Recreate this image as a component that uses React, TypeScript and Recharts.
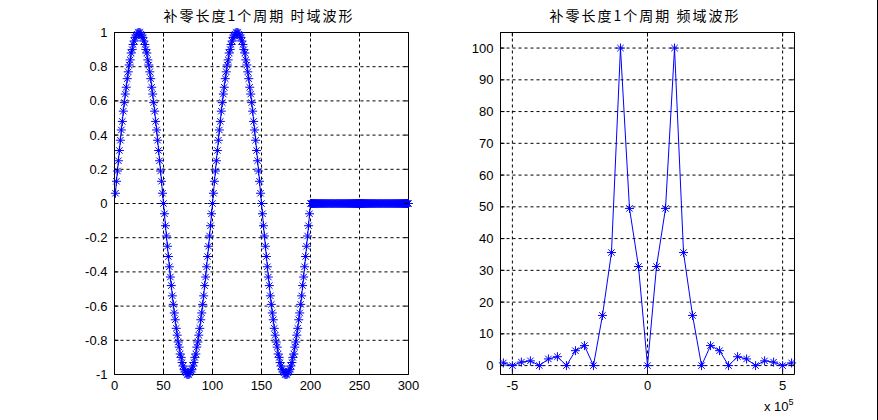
import {
  LineChart,
  Line,
  XAxis,
  YAxis,
  CartesianGrid,
  ReferenceArea,
} from "recharts";

// time domain: two sine periods (samples 1..200), then zero padding up to 300
const firstCycle = [
  0.06, 0.13, 0.19, 0.25, 0.31, 0.37, 0.43, 0.48, 0.54, 0.59,
  0.64, 0.68, 0.73, 0.77, 0.81, 0.84, 0.88, 0.9, 0.93, 0.95,
  0.97, 0.98, 0.99, 1, 1, 1, 0.99, 0.98, 0.97, 0.95,
  0.93, 0.9, 0.88, 0.84, 0.81, 0.77, 0.73, 0.68, 0.64, 0.59,
  0.54, 0.48, 0.43, 0.37, 0.31, 0.25, 0.19, 0.13, 0.06, 0,
  -0.06, -0.13, -0.19, -0.25, -0.31, -0.37, -0.43, -0.48, -0.54, -0.59,
  -0.64, -0.68, -0.73, -0.77, -0.81, -0.84, -0.88, -0.9, -0.93, -0.95,
  -0.97, -0.98, -0.99, -1, -1, -1, -0.99, -0.98, -0.97, -0.95,
  -0.93, -0.9, -0.88, -0.84, -0.81, -0.77, -0.73, -0.68, -0.64, -0.59,
  -0.54, -0.48, -0.43, -0.37, -0.31, -0.25, -0.19, -0.13, -0.06, 0,
];
const secondCycle = [
  0.06, 0.13, 0.19, 0.25, 0.31, 0.37, 0.43, 0.48, 0.54, 0.59,
  0.64, 0.68, 0.73, 0.77, 0.81, 0.84, 0.88, 0.9, 0.93, 0.95,
  0.97, 0.98, 0.99, 1, 1, 1, 0.99, 0.98, 0.97, 0.95,
  0.93, 0.9, 0.88, 0.84, 0.81, 0.77, 0.73, 0.68, 0.64, 0.59,
  0.54, 0.48, 0.43, 0.37, 0.31, 0.25, 0.19, 0.13, 0.06, 0,
  -0.06, -0.13, -0.19, -0.25, -0.31, -0.37, -0.43, -0.48, -0.54, -0.59,
  -0.64, -0.68, -0.73, -0.77, -0.81, -0.84, -0.88, -0.9, -0.93, -0.95,
  -0.97, -0.98, -0.99, -1, -1, -1, -0.99, -0.98, -0.97, -0.95,
  -0.93, -0.9, -0.88, -0.84, -0.81, -0.77, -0.73, -0.68, -0.64, -0.59,
  -0.54, -0.48, -0.43, -0.37, -0.31, -0.25, -0.19, -0.13, -0.06, 0,
];
const zeroPad = [
  0, 0, 0, 0, 0, 0, 0, 0, 0, 0, 0, 0, 0, 0, 0, 0, 0, 0, 0, 0,
  0, 0, 0, 0, 0, 0, 0, 0, 0, 0, 0, 0, 0, 0, 0, 0, 0, 0, 0, 0,
  0, 0, 0, 0, 0, 0, 0, 0, 0, 0, 0, 0, 0, 0, 0, 0, 0, 0, 0, 0,
  0, 0, 0, 0, 0, 0, 0, 0, 0, 0, 0, 0, 0, 0, 0, 0, 0, 0, 0, 0,
  0, 0, 0, 0, 0, 0, 0, 0, 0, 0, 0, 0, 0, 0, 0, 0, 0, 0, 0, 0,
];
const timeTicksX = [0, 50, 100, 150, 200, 250, 300];
const timeTicksY = [-1, -0.8, -0.6, -0.4, -0.2, 0, 0.2, 0.4, 0.6, 0.8, 1];

// frequency domain: FFT bins -16..16, bin width 1e5/3 Hz
const freqBins = [
  -16, -15, -14, -13, -12, -11, -10, -9, -8, -7, -6, -5, -4, -3, -2, -1, 0,
  1, 2, 3, 4, 5, 6, 7, 8, 9, 10, 11, 12, 13, 14, 15, 16,
];
const freqMag = [
  0.85, 0, 1.1, 1.5, 0, 2.1, 2.8, 0, 4.7, 6.3, 0, 15.8, 35.6, 100, 49.5, 31.2, 0,
  31.2, 49.5, 100, 35.6, 15.8, 0, 6.3, 4.7, 0, 2.8, 2.1, 0, 1.5, 1.1, 0, 0.85,
];
const freqTicksX = [-500000, 0, 500000];
const freqTicksY = [0, 10, 20, 30, 40, 50, 60, 70, 80, 90, 100];

const timeData = [...firstCycle, ...secondCycle, ...zeroPad].map((v, i) => ({
  n: i + 1,
  v,
}));
const freqData = freqBins.map((k, i) => ({ f: (k * 100000) / 3, mag: freqMag[i] }));

const BLUE = "#0000ff";
const TICK_FONT = "'Liberation Sans', Arial, sans-serif";
const PLOT_W = 294;
const PLOT_H = 342;
const TICK_LEN = 4;

const Star = (props: any) => {
  const { cx, cy } = props;
  if (cx == null || cy == null) return null;
  return (
    <g stroke={BLUE} strokeWidth={1}>
      <line x1={cx - 4.5} y1={cy} x2={cx + 4.5} y2={cy} />
      <line x1={cx} y1={cy - 4.5} x2={cx} y2={cy + 4.5} />
      <line x1={cx - 3.2} y1={cy - 3.2} x2={cx + 3.2} y2={cy + 3.2} />
      <line x1={cx - 3.2} y1={cy + 3.2} x2={cx + 3.2} y2={cy - 3.2} />
    </g>
  );
};

// bottom tick label plus inward tick marks at bottom and top of the box
const XTick = (props: any) => {
  const { x, y, payload, fmt } = props;
  return (
    <g>
      <line x1={x} y1={y} x2={x} y2={y - TICK_LEN} stroke="#000" />
      <line x1={x} y1={y - PLOT_H} x2={x} y2={y - PLOT_H + TICK_LEN} stroke="#000" />
      <text x={x} y={y + 15} textAnchor="middle" fontSize={13} fontFamily={TICK_FONT} fill="#000">
        {fmt(payload.value)}
      </text>
    </g>
  );
};

// left tick label plus inward tick marks at left and right of the box
const YTick = (props: any) => {
  const { x, y, payload } = props;
  return (
    <g>
      <line x1={x} y1={y} x2={x + TICK_LEN} y2={y} stroke="#000" />
      <line x1={x + PLOT_W} y1={y} x2={x + PLOT_W - TICK_LEN} y2={y} stroke="#000" />
      <text x={x - 7} y={y + 4.5} textAnchor="end" fontSize={13} fontFamily={TICK_FONT} fill="#000">
        {String(payload.value)}
      </text>
    </g>
  );
};

const ExpLabel = (props: any) => {
  const { viewBox } = props;
  const x = viewBox.x + viewBox.width - 30.5;
  return (
    <text x={x} y={411} fontSize={13} fontFamily={TICK_FONT} fill="#000">
      x 10
      <tspan fontSize={9} dy={-6}>
        5
      </tspan>
    </text>
  );
};

const titleStyle = (left: number): React.CSSProperties => ({
  position: "absolute",
  left,
  top: 5,
  width: PLOT_W,
  textAlign: "center",
  fontFamily: "'Noto Sans CJK SC', sans-serif",
  fontSize: 14,
  lineHeight: "20px",
  letterSpacing: 2,
  color: "#000",
  whiteSpace: "nowrap",
});

export default function App() {
  return (
    <div
      style={{
        position: "absolute",
        left: 0,
        top: 0,
        width: 878,
        height: 420,
        background: "#fff",
        overflow: "hidden",
      }}
    >
      <div style={titleStyle(112)}>补零长度1个周期 时域波形</div>
      <div style={titleStyle(498)}>补零长度1个周期 频域波形</div>

      {/* time domain */}
      <div style={{ position: "absolute", left: 0, top: 0 }}>
        <LineChart
          width={440}
          height={420}
          data={timeData}
          margin={{ top: 32.5, right: 31.5, bottom: 15.5, left: 74.5 }}
        >
          <CartesianGrid stroke="#000" strokeDasharray="3 3" />
          <XAxis
            type="number"
            dataKey="n"
            domain={[0, 300]}
            ticks={timeTicksX}
            interval={0}
            height={30}
            tickSize={0}
            tickMargin={0}
            axisLine={false}
            tickLine={false}
            tick={(p: any) => <XTick {...p} fmt={(v: number) => String(v)} />}
          />
          <YAxis
            type="number"
            domain={[-1, 1]}
            ticks={timeTicksY}
            interval={0}
            width={40}
            tickSize={0}
            tickMargin={0}
            axisLine={false}
            tickLine={false}
            tick={(p: any) => <YTick {...p} />}
          />
          <ReferenceArea x1={0} x2={300} y1={-1} y2={1} fill="none" stroke="#000" strokeWidth={1} />
          <Line
            type="linear"
            dataKey="v"
            stroke={BLUE}
            strokeWidth={1}
            dot={<Star />}
            activeDot={false}
            isAnimationActive={false}
          />
        </LineChart>
      </div>

      {/* frequency domain */}
      <div style={{ position: "absolute", left: 440, top: 0 }}>
        <LineChart
          width={438}
          height={420}
          data={freqData}
          margin={{ top: 32.5, right: 83.5, bottom: 15.5, left: 20.5 }}
        >
          <CartesianGrid stroke="#000" strokeDasharray="3 3" />
          <XAxis
            type="number"
            dataKey="f"
            domain={[-544000, 544000]}
            ticks={freqTicksX}
            interval={0}
            height={30}
            tickSize={0}
            tickMargin={0}
            axisLine={false}
            tickLine={false}
            tick={(p: any) => <XTick {...p} fmt={(v: number) => String(v / 100000)} />}
            label={<ExpLabel />}
          />
          <YAxis
            type="number"
            domain={[-2.8, 104.9]}
            ticks={freqTicksY}
            interval={0}
            width={40}
            tickSize={0}
            tickMargin={0}
            axisLine={false}
            tickLine={false}
            tick={(p: any) => <YTick {...p} />}
          />
          <ReferenceArea
            x1={-544000}
            x2={544000}
            y1={-2.8}
            y2={104.9}
            fill="none"
            stroke="#000"
            strokeWidth={1}
          />
          <Line
            type="linear"
            dataKey="mag"
            stroke={BLUE}
            strokeWidth={1}
            dot={<Star />}
            activeDot={false}
            isAnimationActive={false}
          />
        </LineChart>
      </div>

      <div style={{ position: "absolute", left: 877, top: 0, width: 1, height: 420, background: "#000" }} />
    </div>
  );
}
